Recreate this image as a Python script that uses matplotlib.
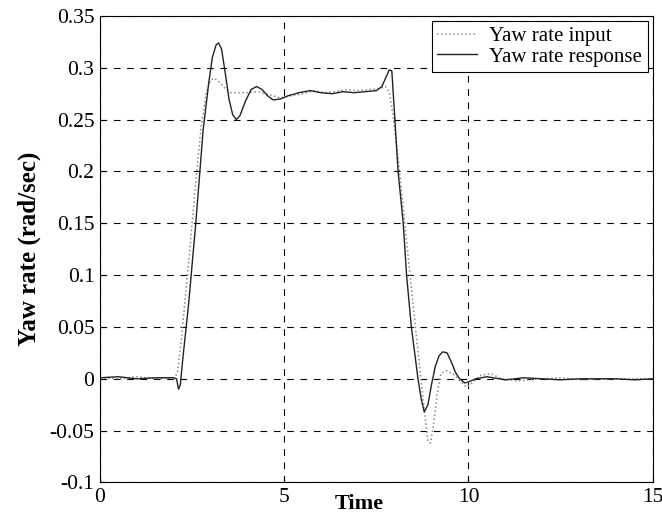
import matplotlib.pyplot as plt

# yaw rate data
t_in = [0, 0.5, 1, 1.5, 2.0, 2.1, 2.2, 2.4, 2.6, 2.75, 2.9, 3.0, 3.1, 3.25, 3.4, 3.55, 3.7,
        4.0, 4.3, 4.6, 4.9, 5.2, 5.5, 5.8, 6.1, 6.4, 6.7, 7.0, 7.3, 7.6, 7.75, 7.85, 7.95,
        8.1, 8.3, 8.5, 8.65, 8.8, 8.9, 8.97, 9.05, 9.15, 9.25, 9.4, 9.6, 9.8, 9.95, 10.1,
        10.3, 10.6, 10.9, 11.3, 12, 12.5, 13, 14, 15]
yaw_in = [0.001, 0.0, 0.002, 0.0, 0.001, 0.005, 0.035, 0.11, 0.19, 0.245, 0.278, 0.288, 0.29,
          0.286, 0.28, 0.276, 0.276, 0.276, 0.277, 0.274, 0.271, 0.273, 0.275, 0.278, 0.276,
          0.277, 0.279, 0.278, 0.279, 0.28, 0.282, 0.276, 0.255, 0.21, 0.14, 0.07, 0.02,
          -0.03, -0.06, -0.062, -0.045, -0.015, 0.005, 0.008, 0.004, -0.003, -0.008, -0.004,
          0.003, 0.005, 0.0, -0.002, 0.0, 0.001, -0.001, 0.0, 0.0]

t_out = [0, 0.5, 1.0, 1.5, 2.0, 2.08, 2.13, 2.18, 2.25, 2.4, 2.6, 2.8, 2.95, 3.05, 3.15, 3.22,
         3.3, 3.4, 3.5, 3.6, 3.7, 3.8, 3.95, 4.1, 4.25, 4.4, 4.55, 4.7, 4.9, 5.1, 5.4, 5.7,
         6.0, 6.3, 6.6, 6.9, 7.2, 7.5, 7.65, 7.75, 7.85, 7.92, 8.0, 8.09, 8.23, 8.32, 8.45,
         8.63, 8.72, 8.8, 8.9, 9.0, 9.1, 9.2, 9.3, 9.42, 9.55, 9.65, 9.76, 9.9, 10.0, 10.2,
         10.5, 11, 11.5, 12, 12.5, 13, 13.5, 14, 14.5, 15]
yaw_out = [0.001, 0.002, 0.0, 0.001, 0.001, 0.0, -0.01, -0.006, 0.02, 0.07, 0.15, 0.24, 0.285,
           0.31, 0.322, 0.324, 0.318, 0.295, 0.27, 0.255, 0.25, 0.254, 0.268, 0.279, 0.282,
           0.279, 0.273, 0.269, 0.27, 0.273, 0.276, 0.278, 0.276, 0.275, 0.277, 0.276, 0.277,
           0.278, 0.282, 0.29, 0.298, 0.297, 0.252, 0.2, 0.15, 0.1, 0.05, 0.0, -0.02, -0.032,
           -0.025, -0.005, 0.012, 0.022, 0.026, 0.025, 0.015, 0.006, 0.0, -0.004, -0.003, 0.0,
           0.002, -0.001, 0.001, 0.0, -0.001, 0.0, 0.0, 0.0, -0.001, 0.0]

x_ticks = [0, 5, 10, 15]
y_ticks = [-0.1, -0.05, 0, 0.05, 0.1, 0.15, 0.2, 0.25, 0.3, 0.35]
y_labels = ['-0.1', '-0.05', '0', '0.05', '0.1', '0.15', '0.2', '0.25', '0.3', '0.35']

plt.rcParams['font.family'] = ['Liberation Serif', 'DejaVu Serif']

fig = plt.figure(figsize=(6.62, 5.16), dpi=100)
ax = fig.add_axes([0.151, 0.065, 0.835, 0.904])

ax.plot(t_in, yaw_in, linestyle=':', color='#888888', linewidth=1.1, label='Yaw rate input')
ax.plot(t_out, yaw_out, linestyle='-', color='#222222', linewidth=1.0, label='Yaw rate response')

ax.set_xlim(0, 15)
ax.set_ylim(-0.1, 0.35)
ax.set_xticks(x_ticks)
ax.set_yticks(y_ticks)
ax.set_yticklabels(y_labels)
ax.tick_params(direction='in', length=4, labelsize=15.5, pad=4)
ax.grid(True, color='black', linestyle=(0, (6, 6)), linewidth=0.8)
for s in ax.spines.values():
    s.set_linewidth(0.8)

ax.set_ylabel('Yaw rate (rad/sec)', fontsize=18, fontweight='bold', labelpad=6)
fig.text(0.542, 0.004, 'Time', fontsize=16, fontweight='bold', ha='center', va='bottom')

leg = ax.legend(loc='upper right', fontsize=15, fancybox=False, framealpha=1,
                edgecolor='black', borderaxespad=0.25, handlelength=1.9,
                handletextpad=0.6, borderpad=0.25, labelspacing=0.05)
leg.get_frame().set_linewidth(0.8)

fig.savefig('out.png', dpi=100)
